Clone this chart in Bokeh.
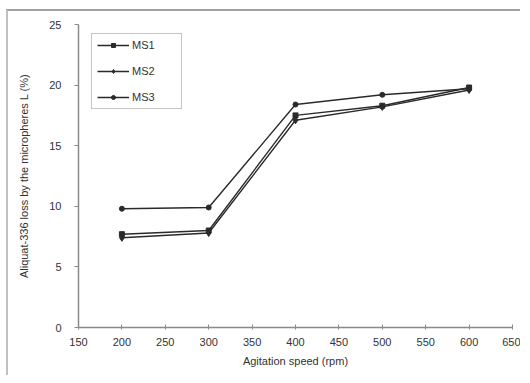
from bokeh.plotting import figure
from bokeh.embed import file_html
from bokeh.resources import INLINE
from bokeh.models import Range1d, FixedTicker, Legend, LegendItem

speed = [200, 300, 400, 500, 600]
ms1 = [7.7, 8.0, 17.5, 18.3, 19.8]
ms2 = [7.4, 7.8, 17.1, 18.2, 19.6]
ms3 = [9.8, 9.9, 18.4, 19.2, 19.7]
x_ticks = [150, 200, 250, 300, 350, 400, 450, 500, 550, 600, 650]
y_ticks = [0, 5, 10, 15, 20, 25]

FONT = "Liberation Sans"

p = figure(width=514, height=366, output_backend="svg", toolbar_location=None,
           x_range=Range1d(150, 650), y_range=Range1d(0, 25),
           min_border_left=70, min_border_right=10, min_border_top=13, min_border_bottom=50)
p.styles = {"margin-left": "6px", "margin-top": "9px",
            "border-top": "2px solid #a0a0a0", "border-left": "2px solid #c0c0c0"}
p.outline_line_color = None
p.xgrid.visible = False
p.ygrid.visible = False
p.background_fill_color = "white"
p.border_fill_color = "white"

for ax in (p.xaxis[0], p.yaxis[0]):
    ax.axis_line_color = "#8a8a8a"
    ax.axis_line_width = 1.5
    ax.major_tick_line_color = "#8a8a8a"
    ax.minor_tick_line_color = None
    ax.major_label_text_font = FONT
    ax.major_label_text_font_size = "11px"
    ax.major_label_text_color = "#333333"
    ax.axis_label_text_font = FONT
    ax.axis_label_text_font_size = "11px"
    ax.axis_label_text_font_style = "normal"
    ax.axis_label_text_color = "#333333"

p.xaxis.ticker = FixedTicker(ticks=x_ticks)
p.yaxis.ticker = FixedTicker(ticks=y_ticks)
p.xaxis.major_tick_in = 3
p.xaxis.major_tick_out = 2
p.yaxis.major_tick_in = 0
p.yaxis.major_tick_out = 4
p.xaxis.major_label_standoff = 8
p.yaxis.major_label_standoff = 13
p.xaxis.axis_label = "Agitation speed (rpm)"
p.yaxis.axis_label = "Aliquat-336 loss by the micropheres L (%)"
p.xaxis.axis_label_standoff = 6
p.yaxis.axis_label_standoff = 16

col = "#2a2a2a"
items = []
specs = [("MS1", ms1, "square"), ("MS2", ms2, "diamond"), ("MS3", ms3, "circle")]
for name, ys, mk in specs:
    l = p.line(speed, ys, line_color=col, line_width=1.4)
    s = p.scatter(speed, ys, marker=mk, size=5 if mk != "diamond" else 7,
                  fill_color=col, line_color=col)
    items.append(LegendItem(label=name, renderers=[l, s]))

legend = Legend(items=items, location=(13, 218))
legend.border_line_color = "#8a8a8a"
legend.border_line_width = 1.5
legend.background_fill_color = "white"
legend.padding = 5
legend.spacing = 14
legend.label_height = 10
legend.glyph_height = 10
legend.glyph_width = 32
legend.label_standoff = 3
legend.label_width = 44
legend.margin = 0
legend.label_text_font = FONT
legend.label_text_font_size = "11px"
legend.label_text_color = "#333333"
p.add_layout(legend, "center")

open("out.html", "w").write(file_html(p, INLINE))
